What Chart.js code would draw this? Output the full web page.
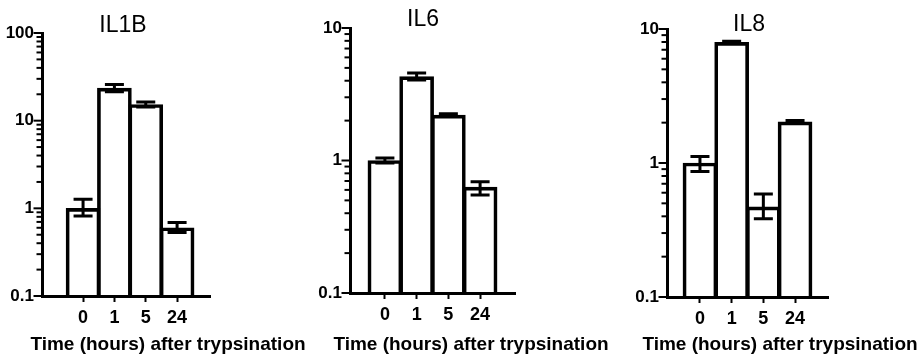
<!DOCTYPE html>
<html>
<head>
<meta charset="utf-8">
<script src="https://cdn.jsdelivr.net/npm/chart.js@4"></script>
<style>
  html, body { margin: 0; padding: 0; background: #fff; }
  #wrap { position: relative; width: 919px; height: 362px; }
  #wrap canvas { position: absolute; left: 0; top: 0; }
</style>
</head>
<body>
<div id="wrap">
  <canvas id="il1b" width="919" height="362"></canvas>
  <canvas id="il6" width="919" height="362"></canvas>
  <canvas id="il8" width="919" height="362"></canvas>
</div>
<script>
// fold change vs time (log axes)
const timeLabels = ["0", "1", "5", "24"];
const xTitle = "Time (hours) after trypsination";

const il1bMean = [1.0, 23.5, 15.3, 0.6];
const il1bLow = [0.82, 21.4, 14.3, 0.53];
const il1bHigh = [1.27, 25.8, 16.3, 0.69];

const il6Mean = [1.0, 4.3, 2.2, 0.63];
const il6Low = [0.957, 4.05, 2.15, 0.55];
const il6High = [1.045, 4.57, 2.25, 0.69];

const il8Mean = [1.0, 7.95, 0.47, 2.03];
const il8Low = [0.865, 7.8, 0.383, 1.98];
const il8High = [1.12, 8.1, 0.587, 2.08];

const FONT = "'Liberation Sans', Arial, Helvetica, sans-serif";
const Y_W = 40; // width reserved for y tick labels

// where each panel sits in the 919x362 picture
const panels = [
  { id: "il1b", title: "IL1B", mean: il1bMean, low: il1bLow, high: il1bHigh, yMax: 100,
    area: { left: 42, right: 210, top: 33, bottom: 296 }, xMin: -1.31, xMax: 4.05,
    titleAt: [123, 32], xTitleAt: [168, 350] },
  { id: "il6", title: "IL6", mean: il6Mean, low: il6Low, high: il6High, yMax: 10,
    area: { left: 350, right: 515, top: 28, bottom: 293 }, xMin: -1.1, xMax: 4.1,
    titleAt: [423, 26], xTitleAt: [471, 350] },
  { id: "il8", title: "IL8", mean: il8Mean, low: il8Low, high: il8High, yMax: 10,
    area: { left: 667, right: 828, top: 29, bottom: 297 }, xMin: -1.04, xMax: 4.04,
    titleAt: [749, 31], xTitleAt: [780, 350] },
];

function isDecade(v) {
  const l = Math.log10(v);
  return Math.abs(l - Math.round(l)) < 1e-6;
}

function logTicks(max) {
  const out = [];
  for (let d = 0.1; d < max * 0.99; d *= 10) {
    for (let k = 1; k <= 9; k++) out.push(+(k * d).toPrecision(3));
  }
  out.push(max);
  return out;
}

// error bars, y minor ticks and the texts
const decor = {
  id: "decor",
  afterDatasetsDraw(chart, args, opts) {
    const ctx = chart.ctx;
    const y = chart.scales.y;
    const meta = chart.getDatasetMeta(0);
    ctx.save();
    ctx.strokeStyle = "#000";
    ctx.lineCap = "butt";
    ctx.lineWidth = 3;
    meta.data.forEach((bar, i) => {
      const yl = y.getPixelForValue(opts.low[i]);
      const yh = y.getPixelForValue(opts.high[i]);
      ctx.beginPath();
      ctx.moveTo(bar.x, yl); ctx.lineTo(bar.x, yh);
      ctx.moveTo(bar.x - 9.5, yl); ctx.lineTo(bar.x + 9.5, yl);
      ctx.moveTo(bar.x - 9.5, yh); ctx.lineTo(bar.x + 9.5, yh);
      ctx.stroke();
    });

    ctx.lineWidth = 2;
    y.ticks.forEach((t) => {
      const py = y.getPixelForValue(t.value);
      const len = isDecade(t.value) ? 7 : 4;
      ctx.beginPath();
      ctx.moveTo(y.right - 1.5 - len, py);
      ctx.lineTo(y.right, py);
      ctx.stroke();
    });

    ctx.fillStyle = "#000";
    ctx.textAlign = "center";
    ctx.textBaseline = "alphabetic";
    ctx.font = "23px " + FONT;
    ctx.fillText(opts.title, opts.titleAt[0], opts.titleAt[1]);
    ctx.font = "bold 19px " + FONT;
    ctx.fillText(xTitle, opts.xTitleAt[0], opts.xTitleAt[1]);
    ctx.restore();
  },
};

panels.forEach((p) => {
  const ctx = document.getElementById(p.id).getContext("2d");
  const yTickValues = logTicks(p.yMax);
  new Chart(ctx, {
    type: "bar",
    data: {
      datasets: [
        {
          label: p.title,
          data: p.mean.map((v, i) => ({ x: i, y: v })),
          backgroundColor: "rgba(255,255,255,0)",
          borderColor: "#000",
          borderWidth: 3,
          borderSkipped: "bottom",
          barThickness: 34,
        },
      ],
    },
    options: {
      responsive: false,
      animation: false,
      events: [],
      layout: {
        padding: {
          left: p.area.left - Y_W,
          right: 919 - p.area.right,
          top: p.area.top,
          bottom: 0,
        },
      },
      plugins: {
        legend: { display: false },
        tooltip: { enabled: false },
        decor: { low: p.low, high: p.high, title: p.title, titleAt: p.titleAt, xTitleAt: p.xTitleAt },
      },
      scales: {
        x: {
          type: "linear",
          min: p.xMin,
          max: p.xMax,
          offset: false,
          afterBuildTicks: (s) => {
            s.ticks = timeLabels.map((_, i) => ({ value: i }));
          },
          afterFit: (s) => {
            s.height = 362 - p.area.bottom;
          },
          grid: {
            offset: false,
            drawOnChartArea: false,
            drawTicks: true,
            tickLength: 6,
            tickWidth: 2,
            tickColor: "#000",
            color: "#000",
          },
          border: { display: true, width: 3, color: "#000" },
          ticks: {
            autoSkip: false,
            maxRotation: 0,
            padding: 5,
            color: "#000",
            font: { family: FONT, size: 18, weight: "bold" },
            callback: (v) => timeLabels[v] ?? "",
          },
        },
        y: {
          type: "logarithmic",
          min: 0.1,
          max: p.yMax,
          afterBuildTicks: (s) => {
            s.ticks = yTickValues.map((v) => ({ value: v }));
          },
          afterFit: (s) => {
            s.width = Y_W;
          },
          grid: { display: false, drawTicks: false },
          border: { display: true, width: 3, color: "#000" },
          ticks: {
            autoSkip: false,
            padding: 8,
            color: "#000",
            font: { family: FONT, size: 17, weight: "bold" },
            callback: (v) => (isDecade(v) ? (v < 1 ? "0.1" : String(Math.round(v))) : ""),
          },
        },
      },
    },
    plugins: [decor],
  });
});
</script>
</body>
</html>
